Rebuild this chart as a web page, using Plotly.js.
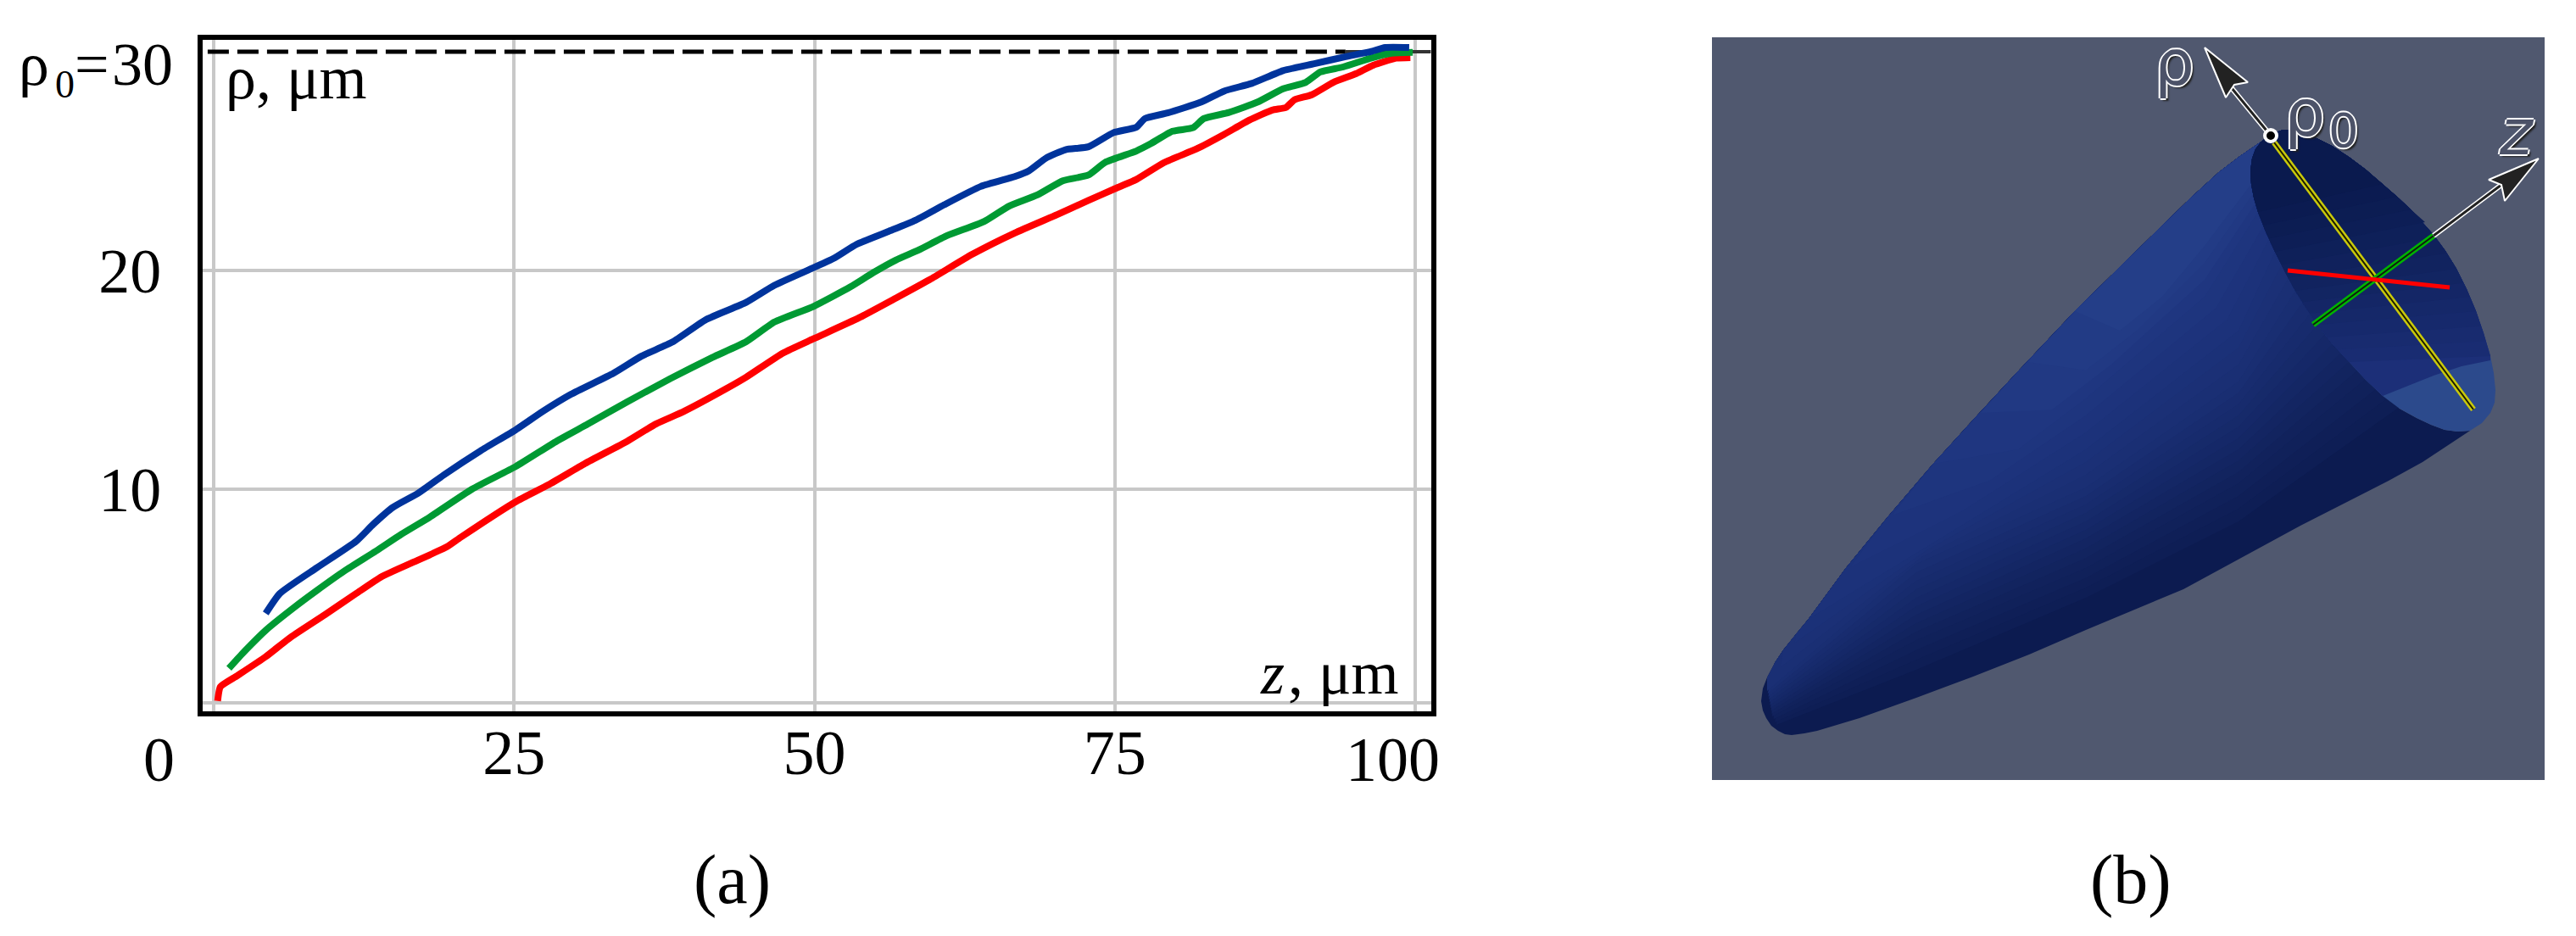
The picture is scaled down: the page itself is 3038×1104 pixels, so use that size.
<!DOCTYPE html>
<html><head><meta charset="utf-8">
<script src="https://cdn.plot.ly/plotly-3.0.1.min.js"></script>
<style>html,body{margin:0;padding:0;background:#fff}#c{width:3038px;height:1104px}</style>
</head><body><div id="c"></div>
<script>
// ---------- panel (a) data ----------
const blueZ = [4.33,5.5,8.56,11.86,13.27,14.92,17.03,19.15,22.2,25.15,27.4,29.74,33.27,35.6,38.2,41.0,44.32,46.67,49.9,51.6,53.5,56.1,58.4,60.8,63.85,66.67,67.85,69.26,70.9,72.8,74.9,76.8,77.5,79.4,82.2,84.1,86.4,89,91.6,94.2,96.3,97.5,99.5];
const blueRho = [4.32,5.23,6.4,7.62,8.39,9.17,9.82,10.65,11.75,12.72,13.56,14.34,15.3,16.08,16.73,17.76,18.54,19.32,20.12,20.55,21.19,21.77,22.29,23.0,23.84,24.29,24.55,25.13,25.52,25.65,26.3,26.55,26.94,27.2,27.7,28.2,28.55,29.13,29.45,29.77,30.0,30.19,30.19];
const greenZ = [1.27,2.45,4.33,6.68,8.56,10.9,13.5,15.62,17.97,21.5,25.15,28.56,31.15,34.45,37.98,41.5,44.32,46.67,49.9,53.0,54.9,56.8,58.67,61.0,64.1,66.2,68.55,70.67,72.8,74.2,76.8,77.95,79.8,81.5,82.4,84.5,86.9,89,90.9,92.1,94,96.3,98,99.8];
const greenRho = [1.81,2.52,3.55,4.59,5.36,6.27,7.17,7.94,8.72,10.0,11.04,12.2,12.98,14.0,15.05,16.02,16.74,17.64,18.35,19.25,19.9,20.48,20.93,21.58,22.23,22.94,23.45,24.1,24.36,24.94,25.46,25.78,26.36,26.52,26.94,27.22,27.7,28.3,28.6,29.07,29.3,29.7,29.93,29.97];
const redZ = [0.33,0.56,1.98,4.3,6.4,9.25,11.86,13.97,16.56,19.4,20.56,25.15,27.86,30.9,34.45,36.8,39.15,42.68,44.32,47.38,49.9,53.7,56.8,59.6,63.15,66.67,70.2,72.8,74.9,76.8,79.1,81.9,84.1,86.2,88.1,89.25,89.95,91.4,93.2,95.1,96.5,98.4,99.6];
const redRho = [0.32,0.97,1.48,2.33,3.23,4.26,5.23,6.0,6.65,7.36,7.8,9.43,10.2,11.17,12.2,12.98,13.56,14.6,15.12,16.22,16.87,17.83,18.74,19.58,20.74,21.71,22.55,23.2,23.71,24.16,24.93,25.58,26.22,26.87,27.33,27.45,27.8,28.03,28.6,29,29.38,29.7,29.73];
const xTickVals = [25,50,75];
const xTickText = ["25","50","75"];
const xExtraGrid = [0,100];
const yTickVals = [10,20];
const yTickText = ["10","20"];
const yExtraGrid = [0.23];
const rho0 = 30;

// ---------- panel (b) illustration outlines (picture coordinates) ----------
const topEdge = [[2077,827],[2079,812],[2084,799],[2093,782],[2103,767],[2118,748],[2133,730],[2155,700],[2177,670],[2227,609],[2280,547],[2330,492],[2380,438],[2447,367],[2515,300],[2550,266],[2583,234],[2617,203],[2642,184],[2667,167]];
const rimInner = [[2667,167],[2660,176],[2656,187],[2654,202],[2655,217],[2658,233],[2663,250],[2672,273],[2683,297],[2695,321],[2707,343],[2720,364],[2733,383],[2751,406],[2770,427],[2790,448],[2810,467],[2830,482],[2850,493],[2867,501],[2883,507],[2898,509],[2913,508]];
const rimOuter = [[2667,167],[2678,158],[2693,153],[2711,155],[2730,162],[2750,172],[2770,185],[2790,200],[2810,217],[2827,232],[2843,247],[2857,262],[2870,277],[2884,296],[2897,317],[2909,341],[2920,367],[2929,393],[2937,420],[2941,440],[2943,460],[2942,475],[2937,487],[2927,499],[2913,508]];
const bottomEdge = [[2913,508],[2857,545],[2817,567],[2713,620],[2575,695],[2460,743],[2393,772],[2327,798],[2260,823],[2193,847],[2143,862],[2128,865],[2113,867],[2105,866],[2097,862],[2089,856],[2083,847],[2079,838],[2077,827]];

const shade = [
 {c:"#0e1e55",l:[[2095,855],[2260,790],[2460,705],[2640,615],[2830,480]]},
 {c:"#11225c",l:[[2090,845],[2260,755],[2460,670],[2640,570],[2790,447]]},
 {c:"#142765",l:[[2088,835],[2260,725],[2460,635],[2640,530],[2760,417]]},
 {c:"#172b6d",l:[[2086,825],[2260,695],[2460,605],[2640,490],[2733,383]]},
 {c:"#1a2f74",l:[[2084,815],[2260,665],[2460,575],[2640,450],[2707,343]]},
 {c:"#1c327a",l:[[2133,730],[2280,640],[2460,530],[2640,390],[2683,297]]},
 {c:"#1f3680",l:[[2280,547],[2380,530],[2460,470],[2600,350],[2663,250]]},
 {c:"#243e88",l:[[2447,367],[2500,390],[2550,350],[2600,290],[2655,217]]}
];
const openingPatch = {c:"#1c2f78",boundary:[[2937,425],[2903,432],[2870,443],[2810,467]]};
const inner = [
 {c:"#192c72",a:[2770,427],b:[2937,420]},
 {c:"#152869",a:[2733,383],b:[2920,367]},
 {c:"#11235f",a:[2707,343],b:[2897,317]},
 {c:"#0d1e56",a:[2683,297],b:[2860,262]},
 {c:"#0a1a4e",a:[2663,250],b:[2810,217]}
];
const yellowLine = [[2682,168],[2917,483]];
const greenLine = [[2728,383],[2870,278]];
const redLine = [[2698,319],[2889,339]];
const rhoShaft = [[2678,160],[2632,104]];
const rhoHead = [[2600,56],[2651,97],[2635,100],[2625,115]];
const zShaft = [[2870,278],[2950,218]];
const zHead = [[2994,187],[2954,237],[2950,218],[2935,212]];
const rho0Point = [[2678,160]];

const xs = p => p.map(q=>q[0]), ys = p => p.map(q=>q[1]);
const traces = [];
function curve(x,y,color){traces.push({type:"scatter",mode:"lines",x,y,xaxis:"x",yaxis:"y",hoverinfo:"skip",showlegend:false,line:{color,width:8,shape:"spline",smoothing:0.5}});}
function poly(p,color,ln){traces.push({type:"scatter",mode:"lines",x:xs(p).concat(p[0][0]),y:ys(p).concat(p[0][1]),xaxis:"x2",yaxis:"y2",fill:"toself",fillcolor:color,hoverinfo:"skip",showlegend:false,line:ln||{width:0,color:color}});}
function seg(p,color,w){traces.push({type:"scatter",mode:"lines",x:xs(p),y:ys(p),xaxis:"x2",yaxis:"y2",hoverinfo:"skip",showlegend:false,line:{color,width:w}});}
const hex=c=>[1,3,5].map(i=>parseInt(c.substr(i,2),16));
const mix=(a,b,t)=>{const A=hex(a),B=hex(b);return "rgb("+A.map((v,i)=>Math.round(v+(B[i]-v)*t)).join(",")+")";};
const lerp=(p,q,t)=>[p[0]+(q[0]-p[0])*t,p[1]+(q[1]-p[1])*t];

// panel a
traces.push({type:"scatter",mode:"lines",x:[-0.5,94.2],y:[rho0,rho0],xaxis:"x",yaxis:"y",hoverinfo:"skip",showlegend:false,line:{color:"#000",width:5,dash:"25px,10px"}});
traces.push({type:"scatter",mode:"lines",x:[94.2,101.3],y:[rho0,rho0],xaxis:"x",yaxis:"y",hoverinfo:"skip",showlegend:false,line:{color:"#333",width:4}});
curve(redZ,redRho,"#ff0000");
curve(greenZ,greenRho,"#009a33");
curve(blueZ,blueRho,"#00349c");

// panel b : outer cone, shaded with nested layers
poly(topEdge.concat(rimInner.slice(1),bottomEdge.slice(1,-1)),"#0c1b50");
function layer(L,color){
  const start=L[0], end=L[L.length-1];
  const top=topEdge.filter(q=>q[0]>=start[0]);
  const rim=rimInner.filter(q=>q[1]<end[1]).slice(1);
  poly(L.concat().reverse().concat(top,rim),color);
}
layer(shade[0].l,shade[0].c);
for(let i=1;i<shade.length;i++){
  for(const t of [1/3,2/3,1]){
    layer(shade[i-1].l.map((q,k)=>lerp(q,shade[i].l[k],t)),mix(shade[i-1].c,shade[i].c,t));
  }
}
// opening: walk the far rim downward, along the chord, then up the near rim
poly(rimOuter.concat(rimInner.slice().reverse().slice(1)),"#2c4a8c");
const leftUp=y=>rimInner.filter(q=>q[1]<y).reverse();
const rightDown=y=>rimOuter.filter(q=>q[1]<y && q[0]!==2667);
poly(rightDown(425).concat(openingPatch.boundary,leftUp(467)),openingPatch.c);
poly(rightDown(inner[0].b[1]).concat([inner[0].b,inner[0].a],leftUp(inner[0].a[1])),inner[0].c);
for(let i=1;i<inner.length;i++){
  for(const t of [1/3,2/3,1]){
    const a=lerp(inner[i-1].a,inner[i].a,t), b=lerp(inner[i-1].b,inner[i].b,t);
    poly(rightDown(b[1]).concat([b,a],leftUp(a[1])),mix(inner[i-1].c,inner[i].c,t));
  }
}
// axes lines on the opening
seg(yellowLine,"#c9c90a",7); seg(yellowLine,"#1c1c00",2);
seg(greenLine,"#00b400",7); seg(greenLine,"#101c10",2);
seg(redLine,"#ff0000",5);
seg(rhoShaft,"#ffffff",6); seg(rhoShaft,"#222222",3);
poly(rhoHead,"#222222",{color:"#ffffff",width:2});
seg(zShaft,"#ffffff",6); seg(zShaft,"#222222",3);
poly(zHead,"#222222",{color:"#ffffff",width:2});
traces.push({type:"scatter",mode:"markers",x:xs(rho0Point),y:ys(rho0Point),xaxis:"x2",yaxis:"y2",hoverinfo:"skip",showlegend:false,marker:{size:14,color:"#000",line:{color:"#fff",width:4}}});

const W=3038,H=1104;
const serif="Liberation Serif";
const halo="2px 0 0 #fff,-2px 0 0 #fff,0 2px 0 #fff,0 -2px 0 #fff,3px 3px 2px #222";
function note(text,px,py,size,xanchor,extra){return Object.assign({text,xref:"paper",yref:"paper",x:px/W,y:1-py/H,xanchor:xanchor||"center",yanchor:"middle",showarrow:false,font:{family:serif,size,color:"#000"}},extra||{});}
const labelFont=(size,style)=>({family:"DejaVu Sans",size,color:"#4c5268",shadow:halo,style:style||"normal"});
const annotations=[
 note("ρ",40,76,72),
 note("0",76,99,46),
 note("=",109,76,72),
 note("30",168,76,72),
 note("ρ, μm",264,92,72,"left"),
 note("z",1500,794,72,"center",{font:{family:serif,size:72,color:"#000",style:"italic"}}),
 note(", μm",1517,794,72,"left"),
 note("0",187,896,74),
 note("100",1642,896,74),
 note("(a)",863,1037,82),
 note("(b)",2513,1037,82),
 note("ρ",2564,74,74,"center",{font:labelFont(74)}),
 note("ρ",2718,133,76,"center",{font:labelFont(76)}),
 note("0",2764,153,56,"center",{font:labelFont(56)}),
 note("z",2968,156,74,"center",{font:labelFont(74,"italic")})
];
const gridStyle={showgrid:true,gridcolor:"#c8c8c8",gridwidth:4};
const layout={
 width:W,height:H,autosize:false,margin:{l:0,r:0,t:0,b:0,pad:0},
 paper_bgcolor:"#fff",plot_bgcolor:"rgba(0,0,0,0)",showlegend:false,
 xaxis:Object.assign({domain:[239/W,1688/W],range:[-0.917,101.34],anchor:"y",tickmode:"array",tickvals:xTickVals,ticktext:xTickText,
   zeroline:false,showline:true,linecolor:"#000",linewidth:6,mirror:true,ticks:"",
   minor:Object.assign({tickmode:"array",tickvals:xExtraGrid,ticks:""},gridStyle),
   tickfont:{family:serif,size:74,color:"#000"},ticklabelstandoff:-21},gridStyle),
 yaxis:Object.assign({domain:[1-839/H,1-47/H],range:[-0.155,30.54],anchor:"x",tickmode:"array",tickvals:yTickVals,ticktext:yTickText,
   zeroline:false,showline:true,linecolor:"#000",linewidth:6,mirror:true,ticks:"",
   minor:Object.assign({tickmode:"array",tickvals:yExtraGrid,ticks:""},gridStyle),
   tickfont:{family:serif,size:74,color:"#000"},ticklabelstandoff:28},gridStyle),
 xaxis2:{domain:[2019/W,3001/W],range:[2019,3001],anchor:"y2",visible:false,fixedrange:true},
 yaxis2:{domain:[1-920/H,1-44/H],range:[920,44],anchor:"x2",visible:false,fixedrange:true},
 shapes:[
  {type:"rect",xref:"x2",yref:"y2",x0:2019,x1:3001,y0:44,y1:920,fillcolor:"#50586f",line:{width:0},layer:"below"},
  {type:"line",xref:"paper",yref:"paper",x0:1692/W,x1:1692/W,y0:1-842/H,y1:1-46/H,line:{color:"#c8c8c8",width:3},layer:"below"}
 ],
 annotations
};
Plotly.newPlot("c",traces,layout,{displayModeBar:false,staticPlot:true});
</script></body></html>
